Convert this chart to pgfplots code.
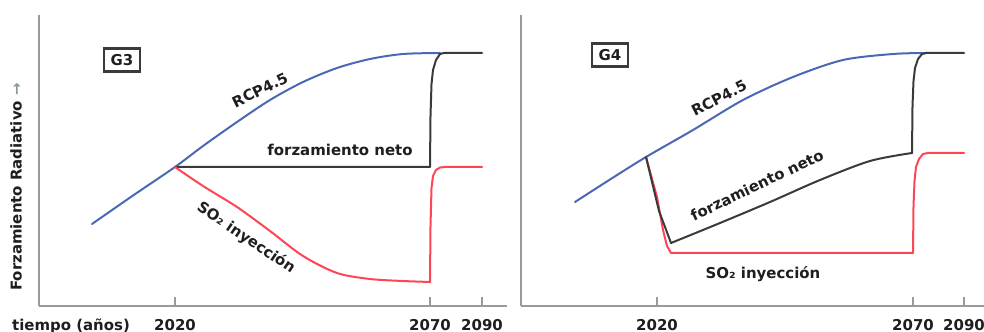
\documentclass[border=0pt]{standalone}
\usepackage{fontspec}
\setmainfont{DejaVu Sans}
\usepackage{pgfplots}
\pgfplotsset{compat=1.18}

\definecolor{rcpblue}{HTML}{4A68B5}
\definecolor{so2red}{HTML}{FF4455}
\definecolor{netgray}{HTML}{3A3A3A}
\definecolor{axisgray}{HTML}{9A9A9A}
\definecolor{txt}{HTML}{1E1E1E}
\definecolor{arrowgray}{HTML}{8C9A8C}

\newcommand\lbl{\fontsize{15}{18}\selectfont\bfseries}

\tikzset{
  tag/.style={draw=netgray, line width=2.6bp, fill=white, font=\lbl, text=txt,
    minimum width=36bp, minimum height=23bp, inner sep=0pt},
  curvelabel/.style={font=\lbl, text=txt},
}

\pgfplotsset{
  panel/.style={
    scale only axis, height=291bp, ymin=0, ymax=291,
    axis x line*=bottom, axis y line*=left,
    axis line style={axisgray, line width=1.6bp},
    ytick=\empty,
    xtick align=inside, major tick length=9bp,
    tick style={axisgray, line width=1.4bp},
    xticklabels={2020,2070,2090},
    xticklabel style={font=\lbl, text=txt, anchor=base, inner sep=0pt, yshift=-24bp},
    clip=false,
    every axis plot/.append style={line width=2bp, line join=round, line cap=round, mark=none},
  },
}

\begin{document}
\begin{tikzpicture}
\useasboundingbox (0,0) rectangle (984bp,332bp);

% G3: sustained net forcing held at the 2020 level
\begin{axis}[panel, at={(39bp,26bp)}, anchor=south west,
  width=468bp, xmin=39, xmax=507, xtick={175,430,482}]
  \addplot[rcpblue, smooth, tension=0.5] coordinates {
    (92,82) (133,110.5) (175,139) (203,160) (237,184) (270,206)
    (303,224) (337,238) (370,247) (403,252) (440,253)};
  \addplot[netgray] coordinates {
    (175,139) (430,139) (430.5,190) (431.5,222) (433,236) (436,246)
    (440,252) (444,253) (482,253)};
  \addplot[so2red, smooth, tension=0.5] coordinates {
    (175,139) (203,120) (237,99) (270,75) (303,50) (337,33) (370,27)
    (403,25) (430,24)};
  \addplot[so2red] coordinates {
    (430,24) (430.5,80) (431.5,118) (433,130) (436,136)
    (440,138.5) (445,139) (482,139)};
  \node[tag] at (axis cs:122,246) {G3};
  \node[curvelabel, rotate=26] at (axis cs:260,216) {RCP4.5};
  \node[curvelabel] at (axis cs:340,156) {forzamiento neto};
  \node[curvelabel, rotate=-34] at (axis cs:246,68) {SO₂ inyección};
  \node[font=\lbl, text=txt, rotate=90] at (axis cs:16,119)
    {Forzamiento Radiativo \textcolor{arrowgray}{→}};
  \node[font=\lbl, text=txt, anchor=base, inner sep=0pt] at (axis cs:71,-24) {tiempo (años)};
\end{axis}

% G4: declining net forcing under constant injection
\begin{axis}[panel, at={(521bp,26bp)}, anchor=south west,
  width=463bp, xmin=521, xmax=984, xtick={657,913,964}]
  \addplot[rcpblue, smooth, tension=0.5] coordinates {
    (575,104) (610,126.5) (646,149) (693,176) (743,206) (793,229)
    (843,246) (893,252) (927,253)};
  \addplot[so2red] coordinates {
    (646,149) (657,109) (663,76) (667,60) (671,53) (913,53)
    (913.5,100) (914.5,125) (916,139) (919,147) (923,152) (928,153) (964,153)};
  \addplot[netgray] coordinates {(646,149) (659,95) (671,63)};
  \addplot[netgray, smooth, tension=0.5] coordinates {
    (671,63) (720,83) (770,104) (820,126) (870,145) (912,153)};
  \addplot[netgray] coordinates {
    (912,153) (912.5,200) (913.5,225) (915,238) (918,247)
    (922,252) (926,253) (964,253)};
  \node[tag] at (axis cs:610,251) {G4};
  \node[curvelabel, rotate=27] at (axis cs:719,208) {RCP4.5};
  \node[curvelabel, rotate=25.5] at (axis cs:757,121) {forzamiento neto};
  \node[curvelabel] at (axis cs:763,32) {SO₂ inyección};
\end{axis}
\end{tikzpicture}
\end{document}
